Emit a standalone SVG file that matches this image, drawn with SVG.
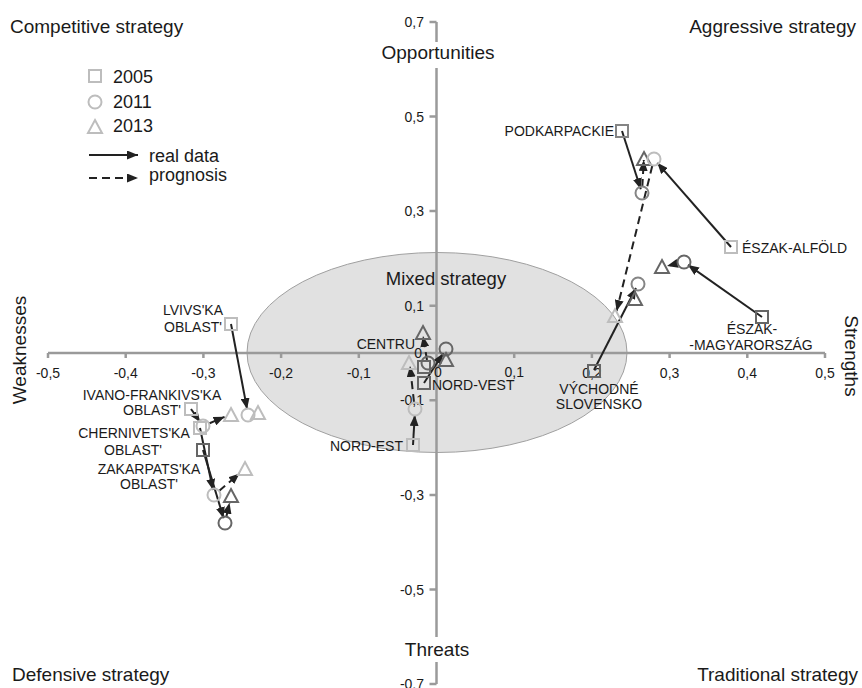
<svg xmlns="http://www.w3.org/2000/svg" width="862" height="688" viewBox="0 0 862 688">
<style>
  text { font-family: "Liberation Sans", Arial, sans-serif; fill: #1a1a1a; }
  .q { font-size: 19px; }
  .mx { font-size: 18.5px; }
  .tk { font-size: 14px; fill: #333; }
  .lb { font-size: 14px; }
  .leg { font-size: 18px; }
  .axis { stroke: #9a9a9a; stroke-width: 2.5; fill: none; }
  .lt { stroke: #bdbdbd; stroke-width: 2; fill: none; }
  .md { stroke: #858585; stroke-width: 2; fill: none; }
  .dk { stroke: #666; stroke-width: 2; fill: none; }
  .real { stroke: #222; stroke-width: 2; fill: none; marker-end: url(#ah); }
  .prog { stroke: #222; stroke-width: 2; fill: none; stroke-dasharray: 8 5; marker-end: url(#ah); }
</style>
<defs>
  <marker id="ah" markerWidth="11" markerHeight="9" refX="11" refY="4.5" orient="auto" markerUnits="userSpaceOnUse">
    <path d="M0,0 L11,4.5 L0,9 Z" fill="#222"/>
  </marker>
  <rect id="sq" x="-6" y="-6" width="12" height="12"/>
  <circle id="ci" r="6.5"/>
  <path id="tr" d="M0,-7 L7,6 L-7,6 Z"/>
</defs>

<!-- mixed-strategy zone -->
<ellipse id="mixed-zone" cx="437" cy="352.5" rx="190" ry="100" fill="#e1e1e1" stroke="#a0a0a0" stroke-width="1"/>
<text class="mx" x="446" y="285" text-anchor="middle">Mixed strategy</text>

<!-- axes -->
<g id="axes">
  <path class="axis" d="M48,353 H825 M48,353 v5 M125.7,353 v5 M203.4,353 v5 M281.1,353 v5 M358.8,353 v5 M514.2,353 v5 M591.9,353 v5 M669.6,353 v5 M747.3,353 v5 M825,353 v5"/>
  <path class="axis" d="M436.5,22 V42 M436.5,68 V637 M436.5,662 V684 M429.5,22 H436.5 M429.5,116.5 H436.5 M429.5,211.1 H436.5 M429.5,305.7 H436.5 M429.5,400.3 H436.5 M429.5,494.9 H436.5 M429.5,589.5 H436.5 M429.5,684 H436.5"/>
  <g class="tk" text-anchor="middle">
    <text x="48" y="378">-0,5</text>
    <text x="125.7" y="378">-0,4</text>
    <text x="203.4" y="378">-0,3</text>
    <text x="281.1" y="378">-0,2</text>
    <text x="358.8" y="378">-0,1</text>
    <text x="438" y="377">0</text>
    <text x="514.2" y="377">0,1</text>
    <text x="591.9" y="378">0,2</text>
    <text x="669.6" y="378">0,3</text>
    <text x="747.3" y="378">0,4</text>
    <text x="825" y="378">0,5</text>
  </g>
  <g class="tk" text-anchor="end">
    <text x="424" y="27">0,7</text>
    <text x="424" y="121.5">0,5</text>
    <text x="424" y="216">0,3</text>
    <text x="424" y="310.7">0,1</text>
    <text x="422" y="358">0</text>
    <text x="424" y="405.3" fill="#f4f4f4">-0,1</text>
    <text x="424" y="500">-0,3</text>
    <text x="424" y="594.5">-0,5</text>
    <text x="424" y="689">-0,7</text>
  </g>
</g>

<!-- axis titles and quadrant names -->
<g id="titles">
  <text class="q" x="10" y="33">Competitive strategy</text>
  <text class="q" x="856" y="33" text-anchor="end">Aggressive strategy</text>
  <text class="q" x="12" y="681">Defensive strategy</text>
  <text class="q" x="858" y="681" text-anchor="end">Traditional strategy</text>
  <text class="q" x="438" y="59" text-anchor="middle">Opportunities</text>
  <text class="q" x="437" y="656" text-anchor="middle">Threats</text>
  <text class="q" text-anchor="middle" transform="translate(26,350) rotate(-90)">Weaknesses</text>
  <text class="q" text-anchor="middle" transform="translate(845,356) rotate(90)">Strengths</text>
</g>

<!-- legend -->
<g id="legend">
  <use href="#sq" x="95" y="76" class="lt"/>
  <use href="#ci" x="95" y="102" class="lt"/>
  <use href="#tr" x="95" y="127" class="lt"/>
  <text class="leg" x="113" y="83">2005</text>
  <text class="leg" x="113" y="108">2011</text>
  <text class="leg" x="113" y="132">2013</text>
  <line class="real" x1="89" y1="155" x2="138" y2="155"/>
  <line class="prog" x1="89" y1="178" x2="138" y2="178"/>
  <text class="leg" x="149" y="162">real data</text>
  <text class="leg" x="149" y="181">prognosis</text>
</g>

<!-- connectors -->
<g id="connectors">
  <line class="real" x1="622" y1="131" x2="640.8" y2="189.2"/>
  <line class="prog" x1="642.3" y1="187" x2="643.8" y2="160"/>
  <line class="real" x1="731" y1="247" x2="657.3" y2="162.8"/>
  <line class="prog" x1="652.3" y1="165.8" x2="616.6" y2="311"/>
  <line class="real" x1="762" y1="317" x2="688" y2="264.9"/>
  <line class="prog" x1="678" y1="263.4" x2="667" y2="265.9"/>
  <line class="real" x1="594" y1="370" x2="636" y2="288"/>
  <line class="real" x1="413" y1="445" x2="414.8" y2="415"/>
  <line class="prog" x1="414" y1="402" x2="410" y2="366"/>
  <line class="real" x1="424" y1="383" x2="443.3" y2="353.2"/>
  <line class="prog" x1="427" y1="360" x2="423" y2="336"/>
  <line class="real" x1="231" y1="324" x2="247.1" y2="409.1"/>
  <line class="real" x1="191" y1="409" x2="200.1" y2="421.9"/>
  <line class="prog" x1="209" y1="423.5" x2="224.6" y2="416.8"/>
  <line class="real" x1="200" y1="428" x2="213" y2="490"/>
  <line class="prog" x1="219" y1="491" x2="239.6" y2="473.5"/>
  <line class="real" x1="203" y1="450" x2="223.6" y2="518.2"/>
  <line class="prog" x1="226.5" y1="516" x2="229.5" y2="502.8"/>
</g>

<!-- regions -->
<g id="podkarpackie">
  <use href="#sq" x="622" y="131" class="md"/>
  <use href="#ci" x="642" y="193" class="md"/>
  <use href="#tr" x="644" y="159" class="dk"/>
  <text class="lb" x="614" y="136" text-anchor="end">PODKARPACKIE</text>
</g>
<g id="eszak-alfold">
  <use href="#sq" x="731" y="247" class="lt"/>
  <use href="#ci" x="654" y="159" class="lt"/>
  <use href="#tr" x="615" y="316" class="lt"/>
  <text class="lb" x="742" y="253">ÉSZAK-ALFÖLD</text>
</g>
<g id="eszak-magyarorszag">
  <use href="#sq" x="762" y="317" class="dk"/>
  <use href="#ci" x="684" y="262" class="dk"/>
  <use href="#tr" x="662" y="267" class="dk"/>
  <text class="lb" x="752" y="334" text-anchor="middle">ÉSZAK-</text>
  <text class="lb" x="751" y="350" text-anchor="middle">-MAGYARORSZÁG</text>
</g>
<g id="vychodne-slovensko">
  <use href="#sq" x="594" y="371" class="dk"/>
  <use href="#ci" x="638" y="284" class="md"/>
  <use href="#tr" x="635" y="299" class="dk"/>
  <text class="lb" x="599" y="394" text-anchor="middle">VÝCHODNÉ</text>
  <text class="lb" x="599" y="409" text-anchor="middle">SLOVENSKO</text>
</g>
<g id="nord-est">
  <use href="#sq" x="413" y="445" class="lt"/>
  <use href="#ci" x="415" y="409" class="lt"/>
  <use href="#tr" x="409" y="363" class="lt"/>
  <text class="lb" x="403" y="451" text-anchor="end">NORD-EST</text>
</g>
<g id="centru">
  <use href="#sq" x="424" y="367" class="dk"/>
  <use href="#ci" x="428" y="363" class="dk"/>
  <use href="#tr" x="423" y="333" class="dk"/>
  <text class="lb" x="415" y="349" text-anchor="end">CENTRU</text>
</g>
<g id="nord-vest">
  <use href="#sq" x="424" y="383" class="dk"/>
  <use href="#ci" x="446" y="349" class="dk"/>
  <use href="#tr" x="446" y="360" class="dk"/>
  <text class="lb" x="432" y="390">NORD-VEST</text>
</g>
<g id="lvivska">
  <use href="#sq" x="231" y="324" class="lt"/>
  <use href="#ci" x="248" y="415" class="lt"/>
  <use href="#tr" x="258" y="413" class="lt"/>
  <text class="lb" x="193" y="315" text-anchor="middle">LVIVS'KA</text>
  <text class="lb" x="193" y="332" text-anchor="middle">OBLAST'</text>
</g>
<g id="ivano-frankivska">
  <use href="#sq" x="191" y="409" class="lt"/>
  <use href="#ci" x="203" y="426" class="lt"/>
  <use href="#tr" x="231" y="415" class="lt"/>
  <text class="lb" x="152" y="400" text-anchor="middle">IVANO-FRANKIVS'KA</text>
  <text class="lb" x="152" y="415" text-anchor="middle">OBLAST'</text>
</g>
<g id="chernivetska">
  <use href="#sq" x="203" y="450" class="dk"/>
  <use href="#ci" x="225" y="523" class="dk"/>
  <use href="#tr" x="231" y="496" class="dk"/>
  <text class="lb" x="134" y="438" text-anchor="middle">CHERNIVETS'KA</text>
  <text class="lb" x="133" y="455" text-anchor="middle">OBLAST'</text>
</g>
<g id="zakarpatska">
  <use href="#sq" x="200" y="428" class="lt"/>
  <use href="#ci" x="214" y="495" class="lt"/>
  <use href="#tr" x="245" y="469" class="lt"/>
  <text class="lb" x="149" y="474" text-anchor="middle">ZAKARPATS'KA</text>
  <text class="lb" x="149" y="489" text-anchor="middle">OBLAST'</text>
</g>
</svg>
